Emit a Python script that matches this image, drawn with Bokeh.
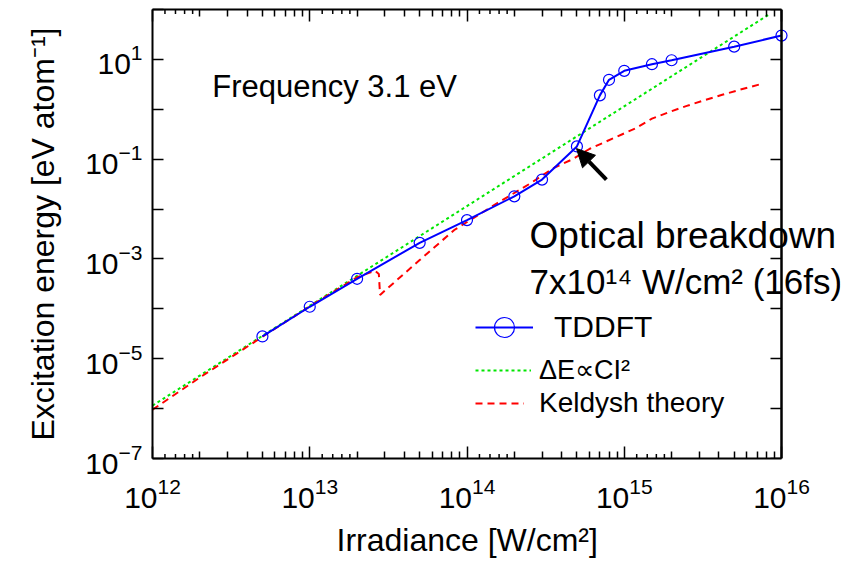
import math
from bokeh.plotting import figure
from bokeh.models import (Range1d, LogAxis, FixedTicker, Label, Arrow, NormalHead,
                          Legend, LegendItem, CustomJSTickFormatter, Span, Title)
from bokeh.embed import file_html
from bokeh.resources import INLINE

# ---------------- data ----------------
tddft_I = [5e12, 1e13, 2e13, 5e13, 1e14, 2e14, 3e14, 5e14, 7e14, 8e14,
           1e15, 1.5e15, 2e15, 5e15, 1e16]
tddft_E = [2.8e-5, 1.1e-4, 4.0e-4, 2.1e-3, 6.0e-3, 1.8e-2, 3.9e-2, 0.18,
           1.9, 3.9, 5.9, 8.0, 9.6, 18.0, 30.0]

fit_I = [1e12, 8.3e15]
fit_E = [1.15e-6, 79.0]

keldysh_I = [1e12, 2e12, 5e12, 1e13, 2e13, 2.6e13, 2.75e13, 2.8e13, 5e13, 8.3e13,
             1.55e14, 2.5e14, 3.6e14, 4.7e14, 6e14, 9.8e14, 1.17e15, 1.5e15,
             1.95e15, 2.5e15, 3.3e15, 4.2e15, 5.4e15, 7.4e15]
keldysh_E = [9.5e-7, 4.2e-6, 2.75e-5, 1.12e-4, 4.3e-4, 5.8e-4, 5.0e-4, 1.9e-4,
             9.5e-4, 3.8e-3, 1.3e-2, 3.2e-2, 6.8e-2, 0.10, 0.16, 0.32, 0.41, 0.65,
             0.89, 1.17, 1.55, 1.95, 2.45, 3.2]

x_major = [1e12, 1e13, 1e14, 1e15, 1e16]
x_minor = [m * 10.0 ** k for k in range(12, 16) for m in range(2, 10)]
x_fine = [m * 10.0 ** k for k in range(12, 16) for m in (1.2, 1.4, 1.6, 1.8)]
y_major = [1e-7, 1e-5, 1e-3, 1e-1, 1e1]
y_minor = [1e-6, 1e-4, 1e-2, 1e0, 1e2]

X_LO, X_HI = 1e12, 1e16
Y_LO, Y_HI = 1e-7, 1e2

FONT = "Liberation Sans"

# axes box is 629 px wide for 4 decades; the frame extends a bit further right
# (kept blank) so that the annotation text can run past the right border
AX_W = 629
FRAME_W = 688
x_view_hi = 10 ** (12 + 4 * FRAME_W / AX_W)

p = figure(frame_width=FRAME_W, frame_height=449, x_axis_type="log", y_axis_type="log",
           x_range=Range1d(X_LO, x_view_hi), y_range=Range1d(Y_LO, Y_HI),
           output_backend="svg", toolbar_location=None,
           min_border_left=152, min_border_right=4, min_border_top=9,
           min_border_bottom=100)
p.grid.visible = False
p.outline_line_color = None
p.background_fill_color = "white"
p.border_fill_color = "white"

def style_axis(ax, show_labels):
    ax.axis_line_color = "black"
    ax.axis_line_width = 2
    ax.major_tick_line_color = "black"
    ax.major_tick_line_width = 1.5
    ax.minor_tick_line_color = "black"
    ax.minor_tick_line_width = 1.5
    ax.major_tick_out = 0
    ax.minor_tick_out = 0
    ax.major_label_text_font = FONT
    ax.major_label_text_color = "black"
    ax.axis_label_text_font = FONT
    ax.axis_label_text_font_style = "normal"
    ax.axis_label_text_color = "black"
    if not show_labels:
        ax.formatter = CustomJSTickFormatter(code="return ''")
        ax.major_label_text_font_size = "2px"
        ax.major_label_standoff = 0

xt = FixedTicker(ticks=x_major, minor_ticks=x_minor)
yt = FixedTicker(ticks=y_major, minor_ticks=y_minor)

xa = p.xaxis[0]
xa.ticker = xt
xa.bounds = (X_LO, X_HI)
style_axis(xa, True)
xa.major_tick_in = 12
xa.minor_tick_in = 7
xa.major_label_text_font_size = "30px"
xa.major_label_standoff = 19

# x-axis title, placed under the middle of the axes box (not of the wider frame)
p.add_layout(Title(text="Irradiance [W/cm²]", align="left", offset=184,
                   text_font=FONT, text_font_size="32px", text_font_style="normal",
                   text_color="black", standoff=19), "below")

ya = p.yaxis[0]
ya.ticker = yt
style_axis(ya, True)
ya.major_tick_in = 11
ya.minor_tick_in = 11
ya.major_label_text_font_size = "30px"
ya.major_label_standoff = 10
ya.axis_label = "Excitation energy [eV atom⁻¹]"
ya.axis_label_text_font_size = "32px"
ya.axis_label_standoff = 21

top = LogAxis(ticker=xt, bounds=(X_LO, X_HI))
style_axis(top, False)
top.major_tick_in = 12
top.minor_tick_in = 7
p.add_layout(top, "above")

right = LogAxis(ticker=yt, fixed_location=X_HI)
style_axis(right, False)
right.major_tick_in = 11
right.minor_tick_in = 11
p.add_layout(right, "right")
p.add_layout(Span(location=X_HI, dimension="height", line_color="black", line_width=2))

# fine ticks (1.2..1.8 per decade) on bottom and top edges
p.scatter(x_fine, [Y_LO] * len(x_fine), marker="dash", size=9, angle=math.pi / 2,
          line_color="black", line_width=1.5)
p.scatter(x_fine, [Y_HI] * len(x_fine), marker="dash", size=9, angle=math.pi / 2,
          line_color="black", line_width=1.5)

# series
r_fit = p.line(fit_I, fit_E, line_color="#00e600", line_width=2, line_dash="3 3")
r_kel = p.line(keldysh_I, keldysh_E, line_color="#ff0000", line_width=2, line_dash="7 5")
r_tl = p.line(tddft_I, tddft_E, line_color="#0000ff", line_width=2)
r_ts = p.scatter(tddft_I, tddft_E, marker="circle", size=11, fill_color=None,
                 line_color="#0000ff", line_width=1.2)

# annotations
p.add_layout(Label(x=2.4e12, y=2.8, text="Frequency 3.1 eV", text_font=FONT,
                   text_font_size="31px", text_color="black",
                   text_baseline="alphabetic"))
p.add_layout(Label(x=2.5e14, y=2.9e-3, text="Optical breakdown", text_font=FONT,
                   text_font_size="37px", text_color="black",
                   text_baseline="alphabetic"))
p.add_layout(Label(x=2.5e14, y=3.6e-4, text="7x10¹⁴ W/cm² (16fs)", text_font=FONT,
                   text_font_size="35px", text_color="black",
                   text_baseline="alphabetic"))
p.add_layout(Arrow(end=NormalHead(size=18, fill_color="black", line_color="black"),
                   x_start=7.7e14, y_start=0.039, x_end=4.97e14, y_end=0.163,
                   line_width=4, line_color="black"))

def make_legend(label, rends, loc, gw, gh, standoff, fs):
    lg = Legend(items=[LegendItem(label=label, renderers=rends)], location=loc,
                glyph_width=gw, glyph_height=gh, label_standoff=standoff,
                label_text_font=FONT, label_text_font_size=fs,
                label_text_color="black", padding=0,
                border_line_color=None, background_fill_alpha=0)
    p.add_layout(lg)

make_legend("TDDFT", [r_tl, r_ts], (323, 106), 58, 50, 21, "30px")
make_legend("ΔE∝CI²", [r_fit], (323, 72), 56, 20, 8, "27px")
make_legend("Keldysh theory", [r_kel], (323, 39), 49, 20, 15, "28px")

open("out.html", "w").write(file_html(p, INLINE))
